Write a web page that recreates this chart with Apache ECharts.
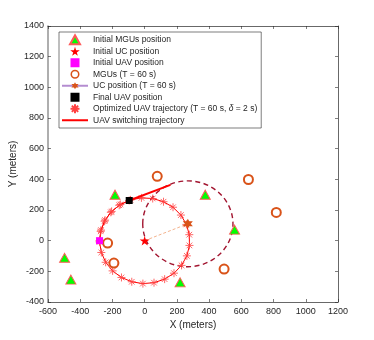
<!DOCTYPE html>
<html>
<head>
<meta charset="utf-8">
<title>UAV trajectory</title>
<script src="https://cdn.jsdelivr.net/npm/echarts@6/dist/echarts.min.js"></script>
</head>
<body style="margin:0">
<div id="main" style="width:374px;height:340px;"></div>
<script type="text/javascript">
    // positions (meters)
    var mguStart = [[-497, -112], [-458, -254], [-184, 300], [376, 300], [220, -272], [558, 72]];
    var ucStart = [[0, 0]];
    var uavStart = [[-280, 0]];
    var mguEnd = [[78, 420], [644, 399], [817, 184], [493, -185], [-191, -146], [-230, -16]];
    var ucEnd = [[268, 110]];
    var uavEnd = [[-96, 262]];
    var coverRadius = 280;
    var uavPath = [
        [-280, 0], [-271, 69], [-246, 134], [-205, 191], [-151, 236], [-88, 266],
        [-20, 279], [50, 275], [117, 254], [176, 218], [225, 167], [259, 106],
        [277, 39], [278, -31], [262, -99], [229, -161], [182, -212], [124, -251],
        [58, -274], [-11, -280], [-80, -268], [-144, -240], [-199, -197], [-242, -141],
        [-269, -77], [-280, -8], [-273, 61], [-249, 127], [-210, 185], [-158, 231], [-96, 262]
    ];
    var switchPath = [[-96, 262], [160, 364]];
    var xRange = [-600, 1200];
    var yRange = [-400, 1400];
    var tickStep = 200;

    var font = "'Liberation Sans', Arial, Helvetica, sans-serif";
    var ink = '#262626';
    var starPath = 'path://M50,0L61,35L98,35L68,57L79,91L50,70L21,91L32,57L2,35L39,35Z';
    var hexPath = 'path://M50,0L62,25L93,25L75,50L93,75L62,75L50,100L38,75L7,75L25,50L7,25L38,25Z';
    var asterPath = 'path://M5,0V10M0,5H10M1.5,1.5L8.5,8.5M8.5,1.5L1.5,8.5';
    var triPath = 'path://M5,0L10,9H0Z';
    var boxPath = 'path://M0,0H10V10H0Z';
    var ringPath = 'path://M5,0A5,5 0 1,1 5,10A5,5 0 1,1 5,0ZM5,1.7A3.3,3.3 0 1,0 5,8.3A3.3,3.3 0 1,0 5,1.7Z';
    var trajName = 'Optimized UAV trajectory (T = 60 s, \u03b4 = 2 s)';

    function axisBase(pos, showLabel, lineColor, lineWidth) {
        return {
            type: 'value', position: pos,
            nameMoveOverlap: false,
            axisLine: {show: true, onZero: false, lineStyle: {color: lineColor, width: lineWidth}},
            axisTick: {show: true, inside: true, length: 3, lineStyle: {color: ink, width: 0.6}},
            axisLabel: {show: showLabel, color: ink, fontSize: 9, fontFamily: font, margin: 5,
                formatter: function (v) { return String(v); }},
            splitLine: {show: false}
        };
    }

    var xBottom = axisBase('bottom', true, ink, 0.7);
    xBottom.min = xRange[0]; xBottom.max = xRange[1]; xBottom.interval = tickStep;
    xBottom.name = 'X (meters)'; xBottom.nameLocation = 'middle'; xBottom.nameGap = 18;
    xBottom.nameTextStyle = {color: ink, fontSize: 10, fontFamily: font};
    var xTop = axisBase('top', false, ink, 0.7);
    xTop.min = xRange[0]; xTop.max = xRange[1]; xTop.interval = tickStep;

    var yLeft = axisBase('left', true, '#9a9a9a', 1.6);
    yLeft.min = yRange[0]; yLeft.max = yRange[1]; yLeft.interval = tickStep;
    yLeft.axisLabel.margin = 4;
    yLeft.name = 'Y (meters)'; yLeft.nameLocation = 'middle'; yLeft.nameGap = 30;
    yLeft.nameTextStyle = {color: ink, fontSize: 10, fontFamily: font};
    var yRight = axisBase('right', false, ink, 0.7);
    yRight.min = yRange[0]; yRight.max = yRange[1]; yRight.interval = tickStep;

    var chart = echarts.init(document.getElementById('main'));
    var option = {
        backgroundColor: '#fff',
        animation: false,
        grid: {left: 48, right: 36, top: 26, bottom: 38, outerBoundsMode: 'none', containLabel: false},
        xAxis: [xBottom, xTop],
        yAxis: [yLeft, yRight],
        legend: {
            orient: 'vertical', left: 59, top: 32,
            padding: [2, 4, 2, 2],
            itemWidth: 26, itemHeight: 9, itemGap: 0,
            symbolKeepAspect: true,
            borderColor: ink, borderWidth: 0.6, backgroundColor: '#fff',
            textStyle: {color: ink, fontSize: 8.5, fontFamily: font, lineHeight: 11.5,
                rich: {i: {fontStyle: 'italic', fontSize: 8.5, fontFamily: font, color: ink}}},
            formatter: function (name) { return name.replace('\u03b4', '{i|\u03b4}'); },
            data: [
                {name: 'Initial MGUs position', icon: triPath},
                {name: 'Initial UC position', icon: starPath},
                {name: 'Initial UAV position', icon: boxPath},
                {name: 'MGUs (T = 60 s)', icon: ringPath, itemStyle: {borderWidth: 0}},
                {name: 'UC position (T = 60 s)'},
                {name: 'Final UAV position', icon: boxPath},
                {name: trajName, icon: asterPath},
                {name: 'UAV switching trajectory', icon: 'path://M0,0h26v2h-26z'}
            ]
        },
        series: [
            {
                type: 'custom', name: 'coverage', silent: true, z: 1,
                data: [[ucEnd[0][0], ucEnd[0][1], coverRadius]],
                encode: {x: 0, y: 1},
                renderItem: function (params, api) {
                    var c = api.coord([api.value(0), api.value(1)]);
                    var s = api.size([api.value(2), api.value(2)]);
                    return {
                        type: 'ellipse',
                        shape: {cx: c[0], cy: c[1], rx: s[0], ry: s[1]},
                        style: {fill: 'none', stroke: '#A2142F', lineWidth: 1.4, lineDash: [5, 3.5]}
                    };
                }
            },
            {
                type: 'line', name: 'ucLink', silent: true, z: 2, symbol: 'none',
                data: [ucStart[0], ucEnd[0]],
                lineStyle: {color: '#F0A070', width: 0.8, type: [3, 2]}
            },
            {
                type: 'line', name: 'pathLine', silent: true, z: 3, symbol: 'none',
                data: uavPath,
                lineStyle: {color: '#ff0000', width: 1}
            },
            {
                type: 'scatter', name: trajName, z: 4, symbolKeepAspect: true,
                data: uavPath, symbol: asterPath, symbolSize: 8,
                itemStyle: {color: '#ff4040', borderColor: '#ff4040', borderWidth: 0.8, opacity: 1}
            },
            {
                type: 'line', name: 'UAV switching trajectory', z: 5, symbol: 'none',
                data: switchPath,
                itemStyle: {color: '#ff0000'},
                lineStyle: {color: '#ff0000', width: 2}
            },
            {
                type: 'scatter', name: 'Initial MGUs position', z: 6,
                data: mguStart, symbol: 'triangle', symbolSize: [10, 9],
                itemStyle: {color: '#00ff00', borderColor: '#ff5a5a', borderWidth: 1, opacity: 1}
            },
            {
                type: 'scatter', name: 'Initial UC position', z: 6, symbolKeepAspect: true,
                data: ucStart, symbol: starPath, symbolSize: 10,
                itemStyle: {color: '#ff0000', opacity: 1}
            },
            {
                type: 'scatter', name: 'Initial UAV position', z: 7,
                data: uavStart, symbol: 'rect', symbolSize: 7,
                itemStyle: {color: '#ff00ff', opacity: 1}
            },
            {
                type: 'scatter', name: 'MGUs (T = 60 s)', z: 6,
                data: mguEnd, symbol: 'emptyCircle', symbolSize: 9,
                itemStyle: {color: '#D95319', borderColor: '#D95319', borderWidth: 1.6, opacity: 1}
            },
            {
                type: 'line', name: 'UC position (T = 60 s)', z: 6,
                data: ucEnd, symbol: hexPath, symbolSize: 10, showSymbol: true,
                itemStyle: {color: '#D95319', opacity: 1},
                lineStyle: {color: '#B48CD0', width: 1}
            },
            {
                type: 'scatter', name: 'Final UAV position', z: 7,
                data: uavEnd, symbol: 'rect', symbolSize: 7,
                itemStyle: {color: '#000000', opacity: 1}
            }
        ]
    };
    chart.setOption(option);
</script>
</body>
</html>
